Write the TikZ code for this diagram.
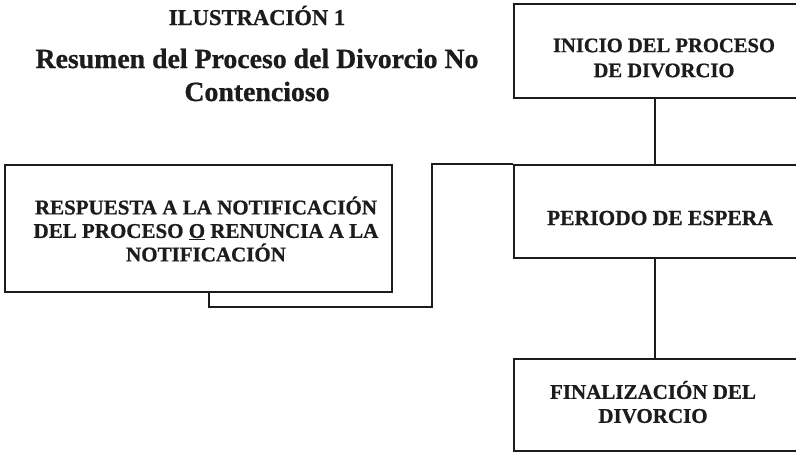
\documentclass[tikz,border=0pt]{standalone}
\usepackage{fontspec}
\setmainfont{Liberation Serif}[BoldFeatures={FakeBold=0.8}]
\usetikzlibrary{calc}
\definecolor{ink}{HTML}{1E1B1C}
\begin{document}
\begin{tikzpicture}[x=1pt,y=-1pt,
  boxst/.style={draw=ink,line width=2.8pt,rectangle,inner sep=0pt,text=ink,align=center,
    font=\bfseries\fontsize{21}{24}\selectfont},
  conn/.style={draw=ink,line width=2.2pt},
  ttl/.style={text=ink,align=center,inner sep=0pt}]
\useasboundingbox (0,0) rectangle (796,453);
\clip (0,0) rectangle (796,453);
% titles
\node[ttl,font=\bfseries\fontsize{22.6}{26}\selectfont,anchor=base] (t1) at (257,25) {ILUSTRACIÓN 1};
\node[ttl,font=\bfseries\fontsize{27.8}{33}\selectfont,anchor=base] (t2) at (257,68) {Resumen del Proceso del Divorcio No};
\node[ttl,font=\bfseries\fontsize{27.8}{33}\selectfont,anchor=base] (t3) at (257,101) {Contencioso};
% boxes
\node[boxst,minimum width=294,minimum height=94] (inicio) at (661,51) {};
\node[ttl,font=\bfseries\fontsize{20.6}{25}\selectfont] (inicioT) at (664,58) {INICIO DEL PROCESO\\DE DIVORCIO};
\node[boxst,minimum width=294,minimum height=93] (periodo) at (661,211.5) {};
\node[ttl,font=\bfseries\fontsize{21.5}{24}\selectfont] (periodoT) at (660,218) {PERIODO DE ESPERA};
\node[boxst,minimum width=294,minimum height=92] (final) at (661,405) {};
\node[ttl,font=\bfseries\fontsize{21}{24}\selectfont] (finalT) at (653,402) {FINALIZACIÓN DEL\\DIVORCIO};
\node[boxst,minimum width=387,minimum height=127] (resp) at (198.5,228.5) {};
\node[ttl,font=\bfseries\fontsize{21}{23.5}\selectfont] (respT) at (206,229) {RESPUESTA A LA NOTIFICACIÓN\\DEL PROCESO \underline{O} RENUNCIA A LA\\NOTIFICACIÓN};
% connectors
\draw[conn] ([xshift=-6]inicio.south) -- ([xshift=-6]periodo.north);
\draw[conn] ([xshift=-6]periodo.south) -- ([xshift=-6]final.north);
\coordinate (c1) at (432,307);
\draw[conn] ([xshift=10.5]resp.south) |- (c1) |- (periodo.north west);
\end{tikzpicture}
\end{document}
